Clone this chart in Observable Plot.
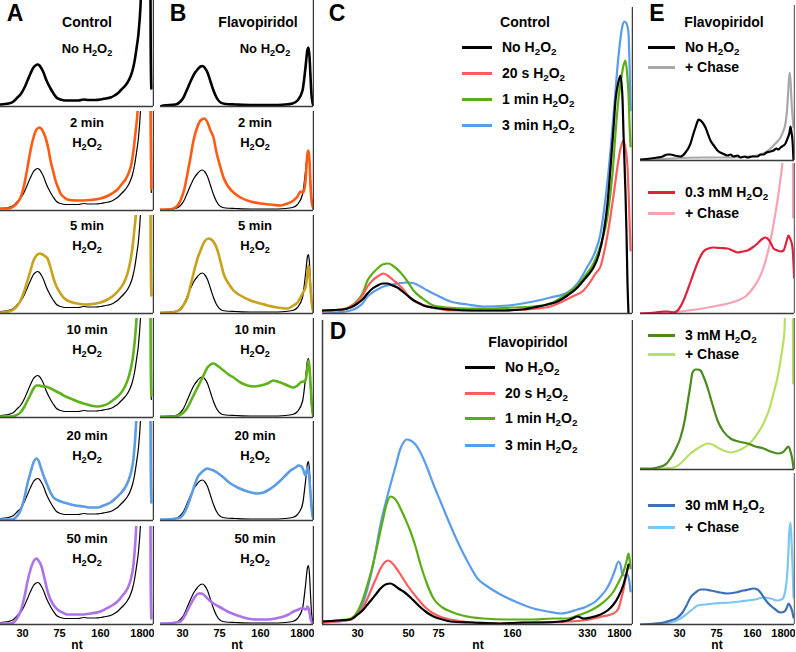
<!DOCTYPE html>
<html><head><meta charset="utf-8">
<script src="https://cdn.jsdelivr.net/npm/d3@7"></script>
<script src="https://cdn.jsdelivr.net/npm/@observablehq/plot@0.6"></script>
<style>
body{margin:0;background:#fff;}
#fig{position:relative;width:796px;height:652px;overflow:hidden;font-family:"Liberation Sans",Arial,sans-serif;font-weight:bold;color:#000;background:#fff;}
.p{position:absolute;}
.t{position:absolute;white-space:nowrap;font-weight:bold;line-height:1;}
.t sub{font-size:70%;vertical-align:baseline;position:relative;top:0.28em;line-height:0;}
.sw{position:absolute;height:3px;}
</style></head><body><div id="fig"></div><script>
// ---------- tick labels (gel mobility positions) ----------
const smallTickPos = [22, 59, 100, 142];
const smallTickLab = ["30", "75", "160", "1800"];
const bigTickPos = [35, 86, 116, 190, 265, 297];
const bigTickLab = ["30", "50", "75", "160", "330", "1800"];
const eTickPos = [39, 76, 112, 143];
const eTickLab = ["30", "75", "160", "1800"];

// ---------- labels ----------
const timeLabels = ["2 min", "5 min", "10 min", "20 min", "50 min"];
const cdLegend = ["No H<sub>2</sub>O<sub>2</sub>", "20 s H<sub>2</sub>O<sub>2</sub>", "1 min H<sub>2</sub>O<sub>2</sub>", "3 min H<sub>2</sub>O<sub>2</sub>"];
const eLegend = [["No H<sub>2</sub>O<sub>2</sub>", "+ Chase"], ["0.3 mM H<sub>2</sub>O<sub>2</sub>", "+ Chase"], ["3 mM H<sub>2</sub>O<sub>2</sub>", "+ Chase"], ["30 mM H<sub>2</sub>O<sub>2</sub>", "+ Chase"]];

// ---------- colours ----------
const timeColors = ["#ff5b14", "#c8a21c", "#5fb21a", "#5b9ce3", "#ad73e6"];
const cdColors = ["#000000", "#ff5c5c", "#5aad12", "#5b9ce8"];
const eColors = [["#000000", "#a8a8a8"], ["#e0213a", "#f7a3b3"], ["#4c8a1c", "#b6e063"], ["#3d6fb3", "#7cc6f5"]];

// ---------- Panel A (Control) ----------
const A_ref = [[0,2],[8,3],[13,5],[17,9],[20,12],[24,19],[27,26],[30,33],[33,39],[35,41],[37,42],[39,41],[41,38],[43,34],[46,26],[50,18],[53,13],[56,9],[60,7],[65,6],[72,6],[78,6],[83,7],[88,6.5],[95,6.5],[100,7],[105,8],[110,9],[114,11],[117,13],[120,16],[123,19],[127,24],[130,30],[132,36],[134,45],[136,58],[138,73],[140,100],[142,150],[144,220],[149.5,220],[150.2,60],[150.8,18]];
const A_2min = [[0,2],[8,2],[13,4],[17,8],[20,13],[24,27],[27,43],[30,60],[33,73],[36,81],[39,83],[42,80],[45,73],[48,61],[50,50],[53,38],[55,30],[58,22],[60,17],[64,13],[67,11],[75,10],[83,10],[90,10.5],[100,12],[108,15],[113,18],[117,21],[121,26],[125,31],[128,37],[131,47],[133,60],[135,78],[137,98],[139,140],[141,220],[149.5,220],[150.2,80],[150.8,22]];
const A_5min = [[0,1],[8,2],[13,4],[17,8],[20,13],[24,23],[27,33],[30,43],[33,53],[36,58],[39,60],[42,59],[45,57],[47,55],[50,46],[53,35],[56,27],[60,20],[64,15],[67,13],[72,11],[77,10],[85,9],[92,9.5],[100,11],[107,14],[113,18],[118,23],[123,30],[127,40],[130,53],[132,66],[134,85],[136,110],[138,220],[149.5,220],[150.2,60],[150.8,18]];
const A_10min = [[0,1],[10,1],[15,2],[20,5],[24,11],[27,17],[30,23],[33,29],[36,32],[39,32],[42,31],[45,31],[48,30],[54,27],[60,24],[65,21],[70,19],[77,16],[83,14],[90,12],[97,11],[103,12],[108,14],[112,17],[116,20],[120,24],[124,30],[128,40],[131,52],[133,65],[135,85],[137,120],[139,220],[149.5,220],[150.2,60],[150.8,22]];
const A_20min = [[0,1],[10,1],[14,2],[17,5],[20,10],[24,23],[27,37],[30,48],[33,58],[36,62],[38,60],[40,54],[43,45],[47,35],[50,28],[53,23],[58,20],[67,17],[75,15],[83,14],[90,13],[97,13],[103,15],[110,18],[116,23],[120,27],[124,32],[128,40],[131,50],[133,62],[135,87],[137,130],[139,220],[149.5,220],[150.2,60],[150.8,18]];
const A_50min = [[0,1],[10,1],[14,3],[17,7],[20,13],[24,28],[27,43],[30,55],[33,63],[36,66],[38,64],[41,58],[44,46],[48,30],[52,21],[57,15],[62,12],[67,10],[75,10],[83,10],[90,11],[100,13],[108,17],[113,20],[117,23],[122,29],[127,36],[130,44],[133,60],[135,85],[137,130],[139,220],[149.5,220],[150.2,40],[150.8,6]];

// ---------- Panel B (Flavopiridol) ----------
const B_ref = [[0,0],[3,1],[15,2],[20,5],[23,9],[27,18],[30,25],[34,33],[37,37],[40,40],[42,40.5],[44,39],[47,34],[50,25],[53,16],[56,9],[60,4],[65,2.5],[75,2],[90,1.5],[110,1.5],[125,2],[132,3],[137,6],[142,16],[145,39],[147,57],[148,59],[149,50],[150,30],[151,12],[152,4],[153,1]];
const B_2min = [[0,1],[8,1],[13,2],[17,5],[20,10],[24,22],[27,37],[30,53],[33,70],[37,84],[40,90],[44,92],[47,88],[50,80],[53,73],[56,58],[60,43],[63,33],[67,25],[73,18],[80,13],[90,9],[100,7],[110,6],[120,5],[127,7],[133,10],[137,14],[140,19],[143,18],[145,30],[147,57],[148,60],[149,50],[150,25],[151,10],[153,2]];
const B_5min = [[0,1],[10,1],[15,2],[20,4],[24,10],[27,16],[30,28],[33,40],[37,55],[40,63],[44,72],[48,75],[52,73],[57,63],[60,52],[63,40],[68,30],[73,23],[80,18],[90,13],[100,10],[107,8],[117,6],[127,5],[133,8],[137,11],[142,20],[145,26],[147,40],[148,48],[149,40],[150,25],[151,13],[153,0]];
const B_10min = [[0,1],[13,1],[20,3],[24,6],[27,10],[32,20],[37,30],[42,40],[47,50],[50,53],[53,54],[58,51],[63,47],[68,43],[73,40],[80,35],[87,32],[94,31],[100,32],[107,34],[113,37],[117,36],[120,35],[127,32],[133,30],[137,32],[140,35],[143,36],[145,37],[147,50],[148,57],[149,50],[150,35],[151,17],[152,6],[153,0]];
const B_20min = [[0,1],[7,1],[15,2],[20,3],[25,10],[30,23],[34,35],[37,43],[42,49],[47,52],[50,51],[53,50],[58,47],[63,43],[70,37],[77,33],[87,29],[97,27],[103,28],[107,30],[113,34],[120,40],[125,45],[130,50],[135,53],[138,55],[141,54],[143,50],[145,45],[146,49],[147,53],[148,50],[149,40],[150,27],[151,14],[152,5],[153,2]];
const B_50min = [[0,1],[7,1],[15,2],[20,3],[25,10],[30,20],[34,27],[38,31],[41,31],[43,30],[48,25],[53,21],[60,17],[67,13],[77,9],[87,6],[97,5],[107,5],[115,6],[123,8],[128,10],[133,13],[138,15],[140,16],[143,16],[145,15],[146,16],[147,18],[148,16],[149,12],[150,6],[151,3],[153,0]];

// ---------- Panel C (Control, short exposures) ----------
const C_none = [[0,3],[20,4],[28,6],[35,10],[40,14],[45,20],[50,25],[55,28],[60,30],[65,30],[70,28],[75,26],[80,22],[85,18],[90,14],[95,11],[101,8],[110,6],[128,4],[150,3],[178,3],[200,4],[211,6],[225,9],[235,12],[245,18],[255,26],[261,33],[266,39],[271,46],[276,58],[281,80],[285,110],[288,146],[291,185],[293,213],[296,232],[298,238],[300,215],[301,180],[303,120],[304,80],[305,30],[306,0]];
const C_20s = [[0,2],[20,4],[28,7],[35,12],[40,18],[45,27],[50,33],[55,37],[61,40],[65,38],[70,34],[75,30],[80,25],[88,15],[95,11],[105,7],[115,5],[128,3],[150,3],[178,3],[200,4],[215,5],[228,7],[240,12],[250,17],[261,23],[268,32],[273,40],[278,47],[283,68],[288,97],[292,125],[295,147],[298,165],[301,173],[303,165],[305,147],[306.5,110],[308,63]];
const C_1min = [[0,3],[20,4],[28,7],[35,13],[40,20],[45,33],[50,40],[55,45],[60,49],[66,50],[70,48],[78,41],[85,32],[91,23],[100,15],[111,8],[125,6],[145,5],[170,5],[190,6],[211,7],[228,10],[245,20],[255,28],[263,38],[271,50],[278,68],[285,97],[290,140],[293,180],[296,215],[298,230],[301,248],[303,253],[305,235],[306,220],[307,190],[308,167]];
const C_3min = [[0,0],[15,1],[28,3],[35,6],[40,10],[45,17],[50,21],[55,24],[61,27],[70,29],[78,30.5],[85,31],[92,30],[98,27],[105,23],[115,18],[128,12],[145,9],[161,7],[185,8],[200,10],[211,12],[228,16],[245,21],[255,30],[265,47],[272,60],[278,80],[283,115],[288,163],[292,210],[295,247],[298,275],[300,288],[302,292],[304,290],[306,280],[307,250],[308,203]];

// ---------- Panel D (Flavopiridol, short exposures) ----------
const D_none = [[0,3],[15,4],[28,5],[35,10],[40,14],[45,20],[50,26],[54,31],[58,36],[63,40],[68,41],[72,39],[76,36],[81,33],[88,27],[95,20],[103,13],[111,8],[120,5],[128,3],[150,2],[178,1],[200,2],[220,2],[238,3],[245,4],[250,6],[255,8],[258,7],[261,6],[268,7],[278,10],[285,14],[291,20],[296,28],[301,40],[304,51],[306,60]];
const D_20s = [[0,2],[15,3],[28,5],[35,10],[40,16],[45,26],[50,38],[54,47],[58,56],[62,62],[66,64],[70,61],[74,56],[78,50],[85,39],[95,26],[103,17],[111,11],[120,7],[128,5],[150,2],[178,1],[210,2],[245,3],[260,4],[271,6],[280,8],[291,11],[296,16],[298,23],[301,35],[303,46],[305,55],[306,58]];
const D_1min = [[0,3],[15,4],[28,6],[35,13],[40,24],[45,40],[50,58],[55,80],[60,103],[64,120],[68,128],[72,126],[75,122],[78,116],[83,105],[88,93],[93,78],[98,60],[104,42],[111,26],[120,17],[128,13],[140,9],[161,6],[185,5],[211,5],[230,6],[245,6],[255,9],[261,11],[270,15],[278,20],[285,26],[291,33],[296,42],[301,53],[304,63],[306,71],[307,66],[308,56]];
const D_3min = [[0,2],[15,3],[28,5],[35,11],[40,20],[45,36],[50,57],[54,78],[58,100],[63,121],[68,140],[73,158],[78,176],[81,182],[84,185],[88,184],[93,180],[98,172],[105,156],[111,140],[118,123],[125,106],[135,83],[145,63],[155,46],[165,38],[178,30],[195,22],[211,16],[225,13],[238,11],[245,12],[255,15],[262,17],[268,20],[273,23],[278,28],[283,34],[288,43],[292,53],[296,63],[298,60],[300,50],[302,49],[305,50],[307,42],[308,33]];

// ---------- Panel E (Flavopiridol + chase) ----------
const E_none = [[0,1],[10,2],[17,3],[22,4],[27,6],[30,6],[34,5],[40,4],[45,8],[50,17],[53,27],[55,33],[57,39],[58,41],[60,40],[62,38],[65,33],[68,25],[70,20],[74,14],[77,10],[82,7],[87,5],[90,6],[93,4],[97,5],[100,3],[104,4],[107,3],[112,4],[117,4],[120,6],[123,6],[126,8],[130,9],[133,10],[136,12],[138,11],[140,13],[143,15],[145,17],[147,22],[149,28],[150,34],[151,28],[152,20],[153,0]];
const E_noneChase = [[0,0],[30,2],[60,3],[90,3],[117,5],[125,8],[130,12],[135,17],[140,23],[143,30],[145,37],[146.5,50],[147.5,65],[149,88],[150,80],[151,60],[152,45],[153,33]];
const E_03 = [[0,0],[15,1],[23,2],[28,2],[33,1],[38,4],[43,13],[48,26],[53,40],[58,53],[63,62],[68,65],[73,66],[80,65.5],[87,65],[92,63],[97,61],[102,62],[107,63],[112,66],[117,70],[121,74],[125,76],[128,74],[131,69],[133,65],[137,63],[140,62],[143,63],[146,72],[148,78],[150,74],[152,66],[153,50],[153.6,36]];
const E_03Chase = [[0,0],[40,2],[73,7],[97,13],[105,17],[113,26],[118,34],[123,46],[127,60],[130,73],[134,95],[137,113],[140,135],[142,153],[144,220],[152.2,220],[152.6,96]];
const E_3 = [[0,1],[10,1],[17,2],[25,5],[30,11],[35,20],[40,32],[44,48],[47,66],[50,85],[52,97],[55,100],[57,100],[60,99],[63,93],[67,82],[72,65],[77,49],[83,38],[90,31],[98,28],[107,26],[115,23],[123,21],[130,18],[137,16],[142,17],[145,20],[148,23],[150,18],[152,9],[153,1]];
const E_3Chase = [[0,0],[20,1],[33,2],[40,6],[45,11],[50,16],[57,21],[62,24],[67,26],[72,25],[77,22],[83,19],[90,17],[98,19],[107,24],[115,33],[123,46],[128,58],[133,76],[137,92],[140,109],[142,122],[144,139],[146,220],[152.2,220],[152.6,86]];
const E_30 = [[0,0],[15,1],[23,2],[30,4],[37,7],[42,12],[46,19],[50,27],[55,32],[60,35],[65,35],[70,34],[75,33],[80,32],[87,31],[95,32],[103,34],[108,35],[113,36],[117,35],[120,32],[124,26],[127,22],[130,19],[135,15],[140,12],[144,13],[146,16],[148,21],[150,18],[152,12],[153,7]];
const E_30Chase = [[0,0],[20,1],[30,2],[40,6],[48,12],[53,16],[57,19],[65,20],[73,21],[80,21.5],[90,22],[100,23],[107,24],[115,25],[123,27],[130,26],[137,24],[141,25],[143,27],[145,35],[147,54],[148,75],[149,95],[150,102],[151,85],[152,60],[153,27]];

// ---------- layout ----------
const fig = document.getElementById("fig");
const FONT = '"Liberation Sans", Arial, sans-serif';
const AXIS = "#3a3a3a";

function panel({left, top, bottom, w, domain, lines, axis, leftRule, rightColor}) {
  const h = bottom - top;
  const mb = axis ? 22 : 2;
  const ml = leftRule ? 1 : 0;
  const mr = 1;
  const marks = lines.map(s => Plot.line(s.data, {
    x: d => d[0], y: d => d[1], stroke: s.color, strokeWidth: s.width,
    curve: "monotone-x", clip: true, strokeLinejoin: "round", strokeLinecap: "round"
  }));
  marks.push(Plot.ruleY([0], {stroke: AXIS, strokeWidth: 1.5}));
  marks.push(Plot.ruleX([domain[1]], {stroke: rightColor || AXIS, strokeWidth: 1.5}));
  if (leftRule) marks.push(Plot.ruleX([domain[0]], {stroke: AXIS, strokeWidth: 1.5}));
  if (axis) {
    const m = new Map(axis.pos.map((p, i) => [p, axis.lab[i]]));
    marks.push(Plot.axisX(axis.pos, {tickSize: 0, tickPadding: 5, tickFormat: d => m.get(d), label: null}));
  }
  const svg = Plot.plot({
    width: w + ml + mr, height: h + mb,
    marginLeft: ml, marginRight: mr, marginTop: 0, marginBottom: mb,
    x: {domain, axis: null},
    y: {domain: [0, h], axis: null},
    style: {fontFamily: FONT, fontWeight: "bold", fontSize: "11px", background: "transparent", color: "#000"},
    marks
  });
  const div = document.createElement("div");
  div.className = "p";
  div.style.left = (left - ml) + "px";
  div.style.top = top + "px";
  div.appendChild(svg);
  fig.appendChild(div);
}

function txt(x, y, html, size, anchor = "middle") {
  const d = document.createElement("div");
  d.className = "t";
  d.style.left = x + "px";
  d.style.top = y + "px";
  d.style.fontSize = size + "px";
  d.style.transform = anchor === "middle" ? "translate(-50%,-50%)" : "translate(0,-50%)";
  d.innerHTML = html;
  fig.appendChild(d);
}
function swatch(x1, x2, y, color) {
  const d = document.createElement("div");
  d.className = "sw";
  d.style.left = x1 + "px";
  d.style.width = (x2 - x1) + "px";
  d.style.top = (y - 1.5) + "px";
  d.style.background = color;
  fig.appendChild(d);
}

const rowTops = [0, 111, 215, 318, 421, 526];
const rowBottoms = [106, 210, 313, 417, 520, 624];
const A_series = [A_2min, A_5min, A_10min, A_20min, A_50min];
const B_series = [B_2min, B_5min, B_10min, B_20min, B_50min];
const H2O2 = "H<sub>2</sub>O<sub>2</sub>";

[["A", 0, A_ref, A_series], ["B", 160, B_ref, B_series]].forEach(([name, left, ref, series]) => {
  for (let r = 0; r < 6; r++) {
    const lines = r === 0
      ? [{data: ref, color: "#000", width: 2.6}]
      : [{data: ref, color: "#000", width: 1.2}, {data: series[r - 1], color: timeColors[r - 1], width: 2.6}];
    panel({left, top: rowTops[r], bottom: rowBottoms[r], w: 153, domain: [0, 153], lines,
      axis: r === 5 ? {pos: smallTickPos, lab: smallTickLab} : null});
  }
});

// C and D
panel({left: 322, top: 7, bottom: 313, w: 310, domain: [0, 310],
  lines: [C_3min, C_1min, C_20s, C_none].map((d, i) => ({data: d, color: cdColors[3 - i], width: 2.2}))});
panel({left: 322, top: 320, bottom: 624, w: 310, domain: [0, 310], leftRule: true,
  lines: [D_3min, D_1min, D_20s, D_none].map((d, i) => ({data: d, color: cdColors[3 - i], width: 2.2})),
  axis: {pos: bigTickPos, lab: bigTickLab}});

// E
const eTops = [5, 163, 318, 473];
const eBottoms = [160, 313, 469, 624];
const E_pairs = [[E_none, E_noneChase], [E_03, E_03Chase], [E_3, E_3Chase], [E_30, E_30Chase]];
E_pairs.forEach(([main, chase], r) => {
  panel({left: 640, top: eTops[r], bottom: eBottoms[r], w: 154, domain: [0, 154], rightColor: "#6e6e6e",
    lines: [{data: chase, color: eColors[r][1], width: 2.2}, {data: main, color: eColors[r][0], width: 2.2}],
    axis: r === 3 ? {pos: eTickPos, lab: eTickLab} : null});
});

// ---------- text ----------
txt(15, 13, "A", 23); txt(178, 13, "B", 23); txt(337, 13, "C", 23); txt(338, 331, "D", 23); txt(657, 13, "E", 23);
txt(87, 22, "Control", 14); txt(87, 48, "No " + H2O2, 13);
txt(258, 22, "Flavopiridol", 14); txt(265, 48, "No " + H2O2, 13);
const rowLabelY = [122, 225, 329, 435, 538];
timeLabels.forEach((lab, i) => {
  [87, 255].forEach(x => { txt(x, rowLabelY[i], lab, 13); txt(x, rowLabelY[i] + 20, H2O2, 13); });
});
// C legend
txt(525, 22, "Control", 14);
[47, 73, 99, 125].forEach((y, i) => { swatch(462, 492, y, cdColors[i]); txt(502, y, cdLegend[i], 14, "start"); });
// D legend
txt(528, 342, "Flavopiridol", 14);
[367, 393, 418, 445].forEach((y, i) => { swatch(465, 495, y, cdColors[i]); txt(505, y, cdLegend[i], 14, "start"); });
// E legends
txt(724, 22, "Flavopiridol", 14);
const eLegY = [[47, 67], [192, 213], [335, 354], [505, 527]];
eLegY.forEach((ys, r) => ys.forEach((y, k) => { swatch(648, 675, y, eColors[r][k]); txt(685, y, eLegend[r][k], 14, "start"); }));
// axis titles
[77, 237, 478, 717].forEach(x => txt(x, 645, "nt", 12));
</script></body></html>
